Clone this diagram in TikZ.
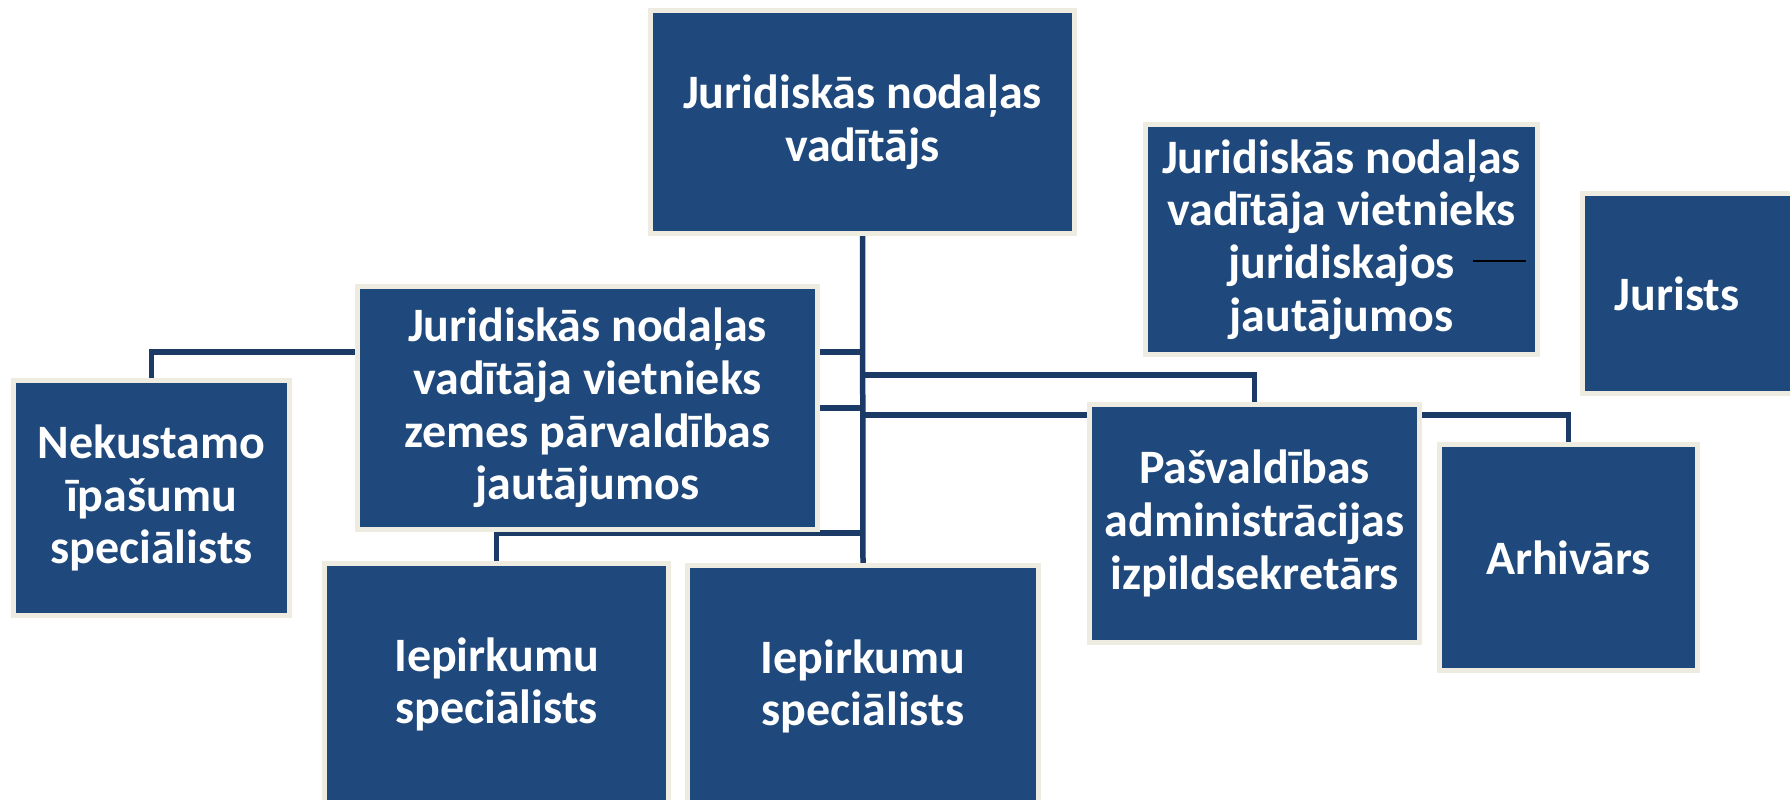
\documentclass[tikz,border=0pt]{standalone}
\usepackage{fontspec}
\setmainfont{Carlito}
\usetikzlibrary{backgrounds}
\definecolor{boxblue}{HTML}{1F497D}
\definecolor{boxedge}{HTML}{EEECE1}
\definecolor{linkblue}{HTML}{1B3A66}
\begin{document}
\begin{tikzpicture}[x=0.5pt,y=-0.5pt,
  box/.style={draw=boxedge, line width=2.5pt, fill=boxblue, text=white,
    font=\bfseries\fontsize{24}{26.3}\selectfont, align=center, inner sep=0pt},
  boxlabel/.style={text=white, font=\bfseries\fontsize{24}{26.3}\selectfont, align=center, inner sep=0pt},
  link/.style={draw=linkblue, line width=2.75pt}]
\useasboundingbox (0,0) rectangle (1790,799);
% boxes
\node[box, minimum width=212pt, minimum height=111.5pt] (top) at (862.5,122) {Juridiskās nodaļas\\vadītājs};
\node[box, minimum width=230pt, minimum height=121.5pt] (zem) at (587.5,408) {Juridiskās nodaļas\\vadītāja vietnieks\\zemes pārvaldības\\jautājumos};
\node[box, minimum width=138pt, minimum height=117.5pt] (nek) at (151.5,498) {Nekustamo\\īpašumu\\speciālists};
\node[box, minimum width=165pt, minimum height=119pt] (pas) at (1254.5,523.5) {Pašvaldības\\administrācijas\\izpildsekretārs};
\node[box, minimum width=129pt, minimum height=113pt] (arh) at (1568.5,557.5) {Arhivārs};
\node[box, minimum width=196pt, minimum height=115pt] (jv) at (1341.5,239.5) {Juridiskās nodaļas\\vadītāja vietnieks\\juridiskajos\\jautājumos};
\node[box, minimum width=132.5pt, minimum height=100pt] (jur) at (1715,293.5) {};
\node[boxlabel] (jurtext) at (1677,293.5) {Jurists};
\node[box, minimum width=172pt, minimum height=121pt] (iep1) at (496.5,684.5) {Iepirkumu\\speciālists};
\node[box, minimum width=175.5pt, minimum height=121pt] (iep2) at (863,686.5) {Iepirkumu\\speciālists};
% junction points on the trunk
\coordinate (j1) at (863,352);
\coordinate (j2) at (863,408);
\coordinate (j3) at (863,375);
\coordinate (j4) at (863,415);
\coordinate (j5) at (863,533);
\begin{scope}[on background layer]
\fill[white] (0,0) rectangle (1790,799);
\draw[link] (top.south) -- (iep2.north);
\draw[link] (nek.north) |- (j1);
\draw[link] (j2) -- (zem.center |- j2);
\draw[link] (j3) -| (pas.north);
\draw[link] (j4) -| (arh.north);
\draw[link] (j5) -| (iep1.north);
\end{scope}
% short black mark in the deputy box
\coordinate (m1) at (1473,261);
\coordinate (m2) at (1526,261);
\draw[black, line width=0.8pt] (m1) -- (m2);
\end{tikzpicture}
\end{document}
